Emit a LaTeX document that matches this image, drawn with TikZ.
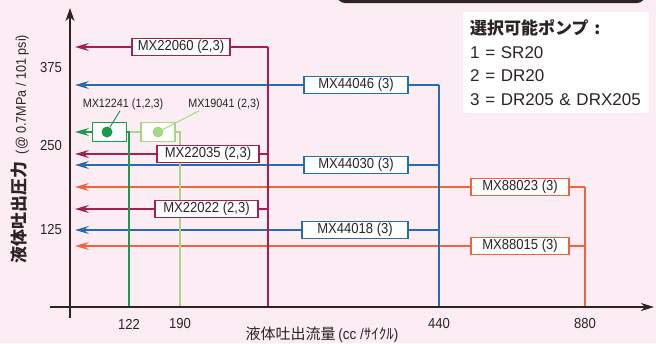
\documentclass[tikz,border=0pt]{standalone}
\usepackage{fontspec}
\setmainfont{Liberation Sans}
\newfontfamily\cond{Liberation Sans}[FakeStretch=0.9]
\newfontfamily\jp{Noto Sans CJK JP}
\usetikzlibrary{arrows.meta}
\definecolor{ChartBg}{RGB}{252,237,245}
\definecolor{ChartInk}{RGB}{45,35,35}
\definecolor{PumpRed}{RGB}{163,32,80}
\definecolor{PumpBlue}{RGB}{35,110,178}
\definecolor{PumpOrange}{RGB}{236,102,60}
\definecolor{PumpGreen}{RGB}{25,155,75}
\definecolor{PumpLime}{RGB}{165,215,135}
\pgfdeclarelayer{back}
\pgfdeclarelayer{wires}
\pgfsetlayers{back,wires,main}

\begin{document}
\begin{tikzpicture}[x=1pt,y=-1pt,
chartaxis/.style={ChartInk,line width=2pt},
scalelbl/.style={font=\cond\fontsize{14.5}{15}\selectfont,text=ChartInk,inner sep=0pt},
pump/.style 2 args={draw=#1,line width=1.5pt,fill=white,minimum width=#2,minimum height=17pt,inner sep=1pt,font=\cond\fontsize{14.5}{15}\selectfont,text=ChartInk},
mini/.style={draw=#1,line width=1.5pt,fill=white,minimum width=34pt,minimum height=19pt,inner sep=0pt},
dot/.style={circle,fill=#1,minimum size=11pt,inner sep=0pt},
tag/.style={font=\cond\fontsize{12}{12}\selectfont,text=ChartInk,inner sep=1pt},
wire/.style={#1,line width=1.5pt},
feed/.style={#1,line width=1.5pt,-{Stealth[length=14pt,width=8pt,inset=5pt]}}]
\useasboundingbox (0,0) rectangle (656,343);
\begin{pgfonlayer}{back}
\fill[ChartBg] (0,0) rectangle (656,343);
\fill[ChartInk,rounded corners=8pt] (337,-20) rectangle (645,3);
\end{pgfonlayer}

\coordinate (ybot) at (70,318);
\coordinate (ytop) at (70,8);
\coordinate (xleft) at (50,307);
\coordinate (xright) at (654,307);
\coordinate (ytip) at (75,0);
\coordinate (redfoot) at (268,307);
\coordinate (bluefoot) at (439,307);
\coordinate (orangefoot) at (585,307);
\coordinate (greenfoot) at (129,307);
\coordinate (limefoot) at (180,307);

\node[fill=white,anchor=north west,minimum width=186pt,minimum height=101pt,text width=172pt,align=left,inner xsep=7pt,font=\fontsize{17}{23.5}\selectfont,text=ChartInk] (legend) at (463,12)
   {{\jp\bfseries 選択可能ポンプ :}\\1 = SR20\\2 = DR20\\3 = DR205 \& DRX205};

\node[pump={PumpRed}{98}] (m22060) at (181,47) {MX22060 (2,3)};
\node[pump={PumpRed}{102}] (m22035) at (208,154) {MX22035 (2,3)};
\node[pump={PumpRed}{103}] (m22022) at (206.5,209) {MX22022 (2,3)};
\node[pump={PumpBlue}{104}] (m44046) at (356,85) {MX44046 (3)};
\node[pump={PumpBlue}{104}] (m44030) at (356,165) {MX44030 (3)};
\node[pump={PumpBlue}{106}] (m44018) at (355,230) {MX44018 (3)};
\node[pump={PumpOrange}{98}] (m88023) at (520,187) {MX88023 (3)};
\node[pump={PumpOrange}{98}] (m88015) at (520,246) {MX88015 (3)};
\node[mini=PumpGreen] (m12241) at (109.5,132) {};
\node[mini=PumpLime] (m19041) at (158,132) {};
\node[dot=PumpGreen] (d12241) at (107,132) {};
\node[dot=PumpLime] (d19041) at (158,132) {};
\node[tag] (l12241) at (123,104) {MX12241 (1,2,3)};
\node[tag] (l19041) at (224,104) {MX19041 (2,3)};

\begin{pgfonlayer}{wires}
\foreach \m in {m22060,m22035,m22022} {
   \draw[feed=PumpRed] (\m) -- (\m -| ytip);
   \draw[wire=PumpRed] (\m) -- (\m -| redfoot);
}
\foreach \m in {m44046,m44030,m44018} {
   \draw[feed=PumpBlue] (\m) -- (\m -| ytip);
   \draw[wire=PumpBlue] (\m) -- (\m -| bluefoot);
}
\foreach \m in {m88023,m88015} {
   \draw[feed=PumpOrange] (\m) -- (\m -| ytip);
   \draw[wire=PumpOrange] (\m) -- (\m -| orangefoot);
}
\draw[wire=PumpRed] (m22060 -| redfoot) -- (redfoot);
\draw[wire=PumpBlue] (m44046 -| bluefoot) -- (bluefoot);
\draw[wire=PumpOrange] (m88023 -| orangefoot) -- (orangefoot);
\draw[wire=PumpLime] (m19041) -- (m12241);
\draw[wire=PumpLime] (m19041) -| (limefoot);
\draw[feed=PumpGreen] (m12241) -- (m12241 -| ytip);
\draw[wire=PumpGreen] (m12241) -| (greenfoot);
\end{pgfonlayer}

\draw[PumpGreen,line width=1pt] (d12241) -- ([xshift=-3pt]l12241.south);
\draw[PumpLime,line width=1pt] (d19041) -- ([xshift=12pt]l19041.south west);

\draw[chartaxis,-{Stealth[length=13pt,width=9pt,inset=4pt]}] (ybot) -- (ytop);
\draw[chartaxis,-{Stealth[length=13pt,width=8pt,inset=4pt]}] (xleft) -- (xright);
\foreach \v/\y in {375/68,250/146,125/230}
   \node[scalelbl] (y\v) at (51,\y) {\v};
\foreach \v/\x in {122/129,190/180,440/439,880/585}
   \node[scalelbl] (x\v) at (\x,324) {\v};

\node[rotate=90,text=ChartInk,inner sep=0pt] (ytitle) at (20,149)
   {{\jp\bfseries\fontsize{17}{17}\selectfont 液体吐出圧力}\hspace{7pt}{\cond\fontsize{14}{14}\selectfont (@ 0.7MPa / 101 psi)}};
\node[text=ChartInk,inner sep=0pt] (xtitle) at (322,335)
   {{\jp\fontsize{15}{15}\selectfont 液体吐出流量} {\cond\fontsize{15}{15}\selectfont (cc /{\jp ｻｲｸﾙ})}};
\end{tikzpicture}
\end{document}
